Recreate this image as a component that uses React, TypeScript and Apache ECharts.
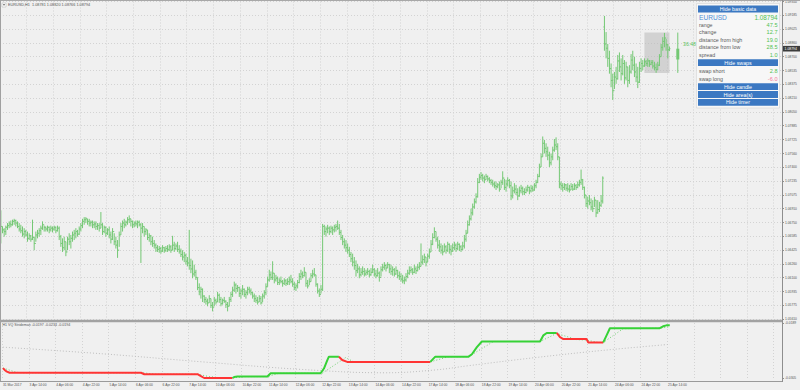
import React, { useEffect, useRef } from "react";
import * as echarts from "echarts";

// ---- time axis tick labels (one every 16 H1 bars) ----
const tickLabels = [
  "31 Mar 2017", "3 Apr 14:00", "4 Apr 06:00", "4 Apr 22:00", "5 Apr 14:00", "6 Apr 06:00",
  "6 Apr 22:00", "7 Apr 14:00", "10 Apr 06:00", "10 Apr 22:00", "11 Apr 14:00", "12 Apr 06:00",
  "12 Apr 22:00", "13 Apr 14:00", "14 Apr 06:00", "14 Apr 22:00", "17 Apr 14:00", "18 Apr 06:00",
  "18 Apr 22:00", "19 Apr 14:00", "20 Apr 06:00", "20 Apr 22:00", "21 Apr 14:00", "24 Apr 06:00",
  "24 Apr 22:00", "25 Apr 14:00",
];
const barsPerTick = 16;
const totalSlots = 469; // bars + empty chart-shift space on the right

// ---- EURUSD H1 bars ----
const firstOpen = 1.0668;
const gapIndex = 362; // Monday 24 Apr open gap
const gapOpen = 1.0905;
const closes = [
  1.0670, 1.0666, 1.0664, 1.0669, 1.0671, 1.0673, 1.0672, 1.0676, 1.0677, 1.0674,
  1.0670, 1.0667, 1.0665, 1.0661, 1.0664, 1.0660, 1.0656, 1.0659, 1.0655, 1.0657,
  1.0650, 1.0660, 1.0662, 1.0665, 1.0668, 1.0672, 1.0669, 1.0667, 1.0669, 1.0666,
  1.0668, 1.0667, 1.0669, 1.0665, 1.0668, 1.0658, 1.0650, 1.0645, 1.0652, 1.0640,
  1.0655, 1.0652, 1.0656, 1.0660, 1.0662, 1.0664, 1.0661, 1.0667, 1.0671, 1.0676,
  1.0678, 1.0679, 1.0676, 1.0674, 1.0675, 1.0672, 1.0673, 1.0670, 1.0671, 1.0668,
  1.0672, 1.0664, 1.0669, 1.0662, 1.0666, 1.0660, 1.0655, 1.0664, 1.0652, 1.0648,
  1.0642, 1.0660, 1.0670, 1.0674, 1.0672, 1.0675, 1.0678, 1.0679, 1.0676, 1.0672,
  1.0674, 1.0673, 1.0675, 1.0672, 1.0668, 1.0670, 1.0664, 1.0666, 1.0657, 1.0659,
  1.0652, 1.0650, 1.0648, 1.0645, 1.0643, 1.0644, 1.0641, 1.0645, 1.0642, 1.0644,
  1.0643, 1.0646, 1.0642, 1.0648, 1.0644, 1.0647, 1.0643, 1.0641, 1.0637, 1.0634,
  1.0636, 1.0629, 1.0627, 1.0624, 1.0620, 1.0614, 1.0616, 1.0610, 1.0598, 1.0593,
  1.0596, 1.0588, 1.0584, 1.0582, 1.0580, 1.0585, 1.0577, 1.0575, 1.0583, 1.0581,
  1.0589, 1.0584, 1.0579, 1.0583, 1.0582, 1.0578, 1.0576, 1.0584, 1.0590, 1.0595,
  1.0601, 1.0597, 1.0598, 1.0591, 1.0594, 1.0596, 1.0590, 1.0592, 1.0596, 1.0594,
  1.0592, 1.0588, 1.0585, 1.0583, 1.0581, 1.0585, 1.0580, 1.0588, 1.0592, 1.0599,
  1.0607, 1.0613, 1.0610, 1.0615, 1.0607, 1.0609, 1.0604, 1.0606, 1.0605, 1.0603,
  1.0606, 1.0603, 1.0605, 1.0607, 1.0605, 1.0602, 1.0598, 1.0600, 1.0604, 1.0611,
  1.0614, 1.0612, 1.0616, 1.0603, 1.0600, 1.0605, 1.0612, 1.0614, 1.0613, 1.0602,
  1.0594, 1.0590, 1.0596, 1.0670, 1.0664, 1.0667, 1.0668, 1.0664, 1.0668, 1.0666,
  1.0669, 1.0670, 1.0668, 1.0663, 1.0657, 1.0652, 1.0648, 1.0645, 1.0642, 1.0637,
  1.0632, 1.0628, 1.0624, 1.0618, 1.0620, 1.0613, 1.0616, 1.0617, 1.0614, 1.0616,
  1.0617, 1.0613, 1.0616, 1.0619, 1.0614, 1.0612, 1.0615, 1.0610, 1.0619, 1.0622,
  1.0624, 1.0621, 1.0625, 1.0620, 1.0617, 1.0619, 1.0614, 1.0618, 1.0612, 1.0611,
  1.0608, 1.0606, 1.0607, 1.0611, 1.0615, 1.0618, 1.0619, 1.0616, 1.0620, 1.0618,
  1.0622, 1.0623, 1.0628, 1.0631, 1.0634, 1.0628, 1.0635, 1.0640, 1.0649, 1.0657,
  1.0664, 1.0655, 1.0648, 1.0646, 1.0642, 1.0640, 1.0646, 1.0642, 1.0649, 1.0643,
  1.0641, 1.0645, 1.0648, 1.0644, 1.0649, 1.0646, 1.0643, 1.0647, 1.0655, 1.0662,
  1.0672, 1.0679, 1.0686, 1.0693, 1.0699, 1.0705, 1.0722, 1.0728, 1.0730, 1.0727,
  1.0725, 1.0729, 1.0726, 1.0724, 1.0722, 1.0720, 1.0718, 1.0717, 1.0719, 1.0714,
  1.0722, 1.0727, 1.0716, 1.0720, 1.0724, 1.0718, 1.0706, 1.0712, 1.0714, 1.0710,
  1.0706, 1.0712, 1.0715, 1.0711, 1.0710, 1.0713, 1.0716, 1.0712, 1.0715, 1.0713,
  1.0718, 1.0722, 1.0729, 1.0740, 1.0752, 1.0768, 1.0762, 1.0758, 1.0754, 1.0745,
  1.0752, 1.0760, 1.0766, 1.0764, 1.0752, 1.0720, 1.0718, 1.0716, 1.0719, 1.0715,
  1.0714, 1.0713, 1.0717, 1.0714, 1.0718, 1.0716, 1.0719, 1.0722, 1.0725, 1.0716,
  1.0707, 1.0697, 1.0700, 1.0698, 1.0693, 1.0691, 1.0701, 1.0686, 1.0690, 1.0695,
  1.0700, 1.0727, 1.0885, 1.0880, 1.0868, 1.0856, 1.0842, 1.0830, 1.0846, 1.0844,
  1.0865, 1.0858, 1.0850, 1.0862, 1.0845, 1.0858, 1.0842, 1.0852, 1.0866, 1.0860,
  1.0852, 1.0846, 1.0840, 1.0856, 1.0862, 1.0859, 1.0864, 1.0862, 1.0865, 1.0861,
  1.0863, 1.0859, 1.0857, 1.0855, 1.0860, 1.0870, 1.0881, 1.0888, 1.0892, 1.0884,
  1.08781, 1.08794,
];
const highs = [
  1.0689, 1.0670, 1.0668, 1.0671, 1.0674, 1.0676, 1.0677, 1.0678, 1.0679, 1.0678,
  1.0676, 1.0674, 1.0672, 1.0670, 1.0668, 1.0666, 1.0664, 1.0662, 1.0660, 1.0678,
  1.0658, 1.0664, 1.0666, 1.0668, 1.0671, 1.0676, 1.0671, 1.0670, 1.0671, 1.0670,
  1.0671, 1.0670, 1.0671, 1.0670, 1.0671, 1.0670, 1.0660, 1.0656, 1.0658, 1.0652,
  1.0658, 1.0662, 1.0660, 1.0664, 1.0666, 1.0668, 1.0666, 1.0670, 1.0674, 1.0679,
  1.0681, 1.0681, 1.0679, 1.0679, 1.0677, 1.0677, 1.0676, 1.0676, 1.0674, 1.0674,
  1.0687, 1.0674, 1.0671, 1.0670, 1.0668, 1.0670, 1.0664, 1.0668, 1.0662, 1.0658,
  1.0654, 1.0664, 1.0674, 1.0677, 1.0679, 1.0677, 1.0681, 1.0683, 1.0679, 1.0677,
  1.0676, 1.0677, 1.0677, 1.0677, 1.0674, 1.0674, 1.0670, 1.0668, 1.0666, 1.0662,
  1.0660, 1.0658, 1.0654, 1.0650, 1.0648, 1.0647, 1.0646, 1.0648, 1.0646, 1.0647,
  1.0648, 1.0649, 1.0648, 1.0659, 1.0652, 1.0650, 1.0652, 1.0648, 1.0644, 1.0642,
  1.0640, 1.0638, 1.0634, 1.0666, 1.0632, 1.0630, 1.0625, 1.0619, 1.0610, 1.0603,
  1.0599, 1.0597, 1.0589, 1.0587, 1.0585, 1.0589, 1.0585, 1.0581, 1.0587, 1.0585,
  1.0593, 1.0591, 1.0587, 1.0585, 1.0587, 1.0583, 1.0581, 1.0587, 1.0593, 1.0599,
  1.0605, 1.0603, 1.0601, 1.0599, 1.0597, 1.0601, 1.0597, 1.0595, 1.0599, 1.0599,
  1.0597, 1.0593, 1.0591, 1.0589, 1.0587, 1.0589, 1.0588, 1.0591, 1.0595, 1.0603,
  1.0611, 1.0619, 1.0617, 1.0629, 1.0615, 1.0613, 1.0611, 1.0609, 1.0611, 1.0607,
  1.0609, 1.0608, 1.0609, 1.0611, 1.0613, 1.0609, 1.0605, 1.0603, 1.0607, 1.0615,
  1.0619, 1.0617, 1.0622, 1.0616, 1.0607, 1.0609, 1.0615, 1.0619, 1.0621, 1.0613,
  1.0603, 1.0597, 1.0601, 1.0673, 1.0672, 1.0670, 1.0672, 1.0670, 1.0671, 1.0670,
  1.0672, 1.0673, 1.0677, 1.0673, 1.0666, 1.0660, 1.0656, 1.0654, 1.0650, 1.0646,
  1.0640, 1.0638, 1.0634, 1.0630, 1.0626, 1.0623, 1.0621, 1.0623, 1.0621, 1.0619,
  1.0621, 1.0619, 1.0621, 1.0625, 1.0621, 1.0619, 1.0621, 1.0617, 1.0623, 1.0626,
  1.0628, 1.0626, 1.0628, 1.0626, 1.0625, 1.0623, 1.0621, 1.0623, 1.0619, 1.0617,
  1.0615, 1.0613, 1.0611, 1.0615, 1.0619, 1.0623, 1.0623, 1.0621, 1.0625, 1.0623,
  1.0626, 1.0628, 1.0650, 1.0636, 1.0638, 1.0634, 1.0638, 1.0644, 1.0654, 1.0662,
  1.0669, 1.0664, 1.0658, 1.0654, 1.0650, 1.0648, 1.0650, 1.0648, 1.0652, 1.0650,
  1.0648, 1.0650, 1.0652, 1.0650, 1.0652, 1.0650, 1.0648, 1.0652, 1.0660, 1.0666,
  1.0677, 1.0683, 1.0691, 1.0697, 1.0703, 1.0709, 1.0727, 1.0732, 1.0734, 1.0732,
  1.0730, 1.0732, 1.0730, 1.0728, 1.0726, 1.0725, 1.0723, 1.0723, 1.0721, 1.0723,
  1.0725, 1.0735, 1.0726, 1.0725, 1.0728, 1.0726, 1.0723, 1.0717, 1.0721, 1.0719,
  1.0715, 1.0717, 1.0719, 1.0717, 1.0715, 1.0717, 1.0719, 1.0717, 1.0719, 1.0718,
  1.0721, 1.0725, 1.0732, 1.0744, 1.0756, 1.0776, 1.0772, 1.0768, 1.0764, 1.0758,
  1.0756, 1.0764, 1.0773, 1.0775, 1.0768, 1.0752, 1.0723, 1.0721, 1.0721, 1.0720,
  1.0721, 1.0719, 1.0721, 1.0720, 1.0721, 1.0720, 1.0723, 1.0725, 1.0737, 1.0726,
  1.0717, 1.0707, 1.0705, 1.0707, 1.0703, 1.0701, 1.0705, 1.0701, 1.0701, 1.0699,
  1.0707, 1.0729, 1.0918, 1.0899, 1.0885, 1.0877, 1.0862, 1.0850, 1.0852, 1.0858,
  1.0872, 1.0875, 1.0868, 1.0872, 1.0866, 1.0864, 1.0858, 1.0860, 1.0873, 1.0877,
  1.0870, 1.0862, 1.0858, 1.0864, 1.0868, 1.0866, 1.0868, 1.0866, 1.0868, 1.0866,
  1.0866, 1.0866, 1.0864, 1.0862, 1.0864, 1.0873, 1.0885, 1.0893, 1.0898, 1.0891,
  1.0885, 1.08820,
];
const lows = [
  1.0650, 1.0662, 1.0658, 1.0660, 1.0666, 1.0668, 1.0669, 1.0671, 1.0672, 1.0670,
  1.0668, 1.0664, 1.0662, 1.0658, 1.0656, 1.0658, 1.0652, 1.0654, 1.0652, 1.0654,
  1.0642, 1.0652, 1.0656, 1.0658, 1.0660, 1.0666, 1.0664, 1.0664, 1.0664, 1.0662,
  1.0664, 1.0663, 1.0665, 1.0662, 1.0664, 1.0654, 1.0646, 1.0640, 1.0642, 1.0635,
  1.0642, 1.0648, 1.0644, 1.0652, 1.0654, 1.0656, 1.0658, 1.0660, 1.0664, 1.0668,
  1.0672, 1.0674, 1.0672, 1.0670, 1.0670, 1.0668, 1.0668, 1.0666, 1.0666, 1.0664,
  1.0668, 1.0660, 1.0662, 1.0658, 1.0660, 1.0656, 1.0650, 1.0654, 1.0648, 1.0644,
  1.0633, 1.0646, 1.0660, 1.0664, 1.0668, 1.0670, 1.0672, 1.0674, 1.0670, 1.0668,
  1.0669, 1.0670, 1.0668, 1.0670, 1.0627, 1.0662, 1.0658, 1.0660, 1.0654, 1.0652,
  1.0648, 1.0646, 1.0644, 1.0640, 1.0640, 1.0639, 1.0638, 1.0640, 1.0639, 1.0640,
  1.0640, 1.0641, 1.0639, 1.0642, 1.0640, 1.0642, 1.0640, 1.0638, 1.0634, 1.0630,
  1.0628, 1.0625, 1.0623, 1.0619, 1.0615, 1.0609, 1.0611, 1.0607, 1.0595, 1.0589,
  1.0585, 1.0581, 1.0580, 1.0578, 1.0576, 1.0580, 1.0574, 1.0570, 1.0576, 1.0578,
  1.0581, 1.0580, 1.0576, 1.0578, 1.0580, 1.0574, 1.0570, 1.0576, 1.0581, 1.0587,
  1.0593, 1.0591, 1.0593, 1.0587, 1.0585, 1.0589, 1.0587, 1.0585, 1.0589, 1.0591,
  1.0589, 1.0585, 1.0581, 1.0580, 1.0578, 1.0581, 1.0578, 1.0581, 1.0585, 1.0589,
  1.0599, 1.0605, 1.0607, 1.0607, 1.0603, 1.0605, 1.0601, 1.0601, 1.0603, 1.0599,
  1.0601, 1.0600, 1.0601, 1.0601, 1.0603, 1.0599, 1.0595, 1.0594, 1.0597, 1.0603,
  1.0607, 1.0609, 1.0611, 1.0599, 1.0597, 1.0601, 1.0605, 1.0609, 1.0611, 1.0599,
  1.0591, 1.0587, 1.0591, 1.0594, 1.0660, 1.0658, 1.0662, 1.0660, 1.0662, 1.0660,
  1.0663, 1.0664, 1.0666, 1.0660, 1.0654, 1.0648, 1.0644, 1.0640, 1.0638, 1.0634,
  1.0628, 1.0623, 1.0619, 1.0611, 1.0615, 1.0609, 1.0611, 1.0613, 1.0611, 1.0612,
  1.0613, 1.0610, 1.0612, 1.0615, 1.0611, 1.0609, 1.0611, 1.0605, 1.0611, 1.0617,
  1.0619, 1.0617, 1.0621, 1.0615, 1.0613, 1.0612, 1.0611, 1.0613, 1.0609, 1.0607,
  1.0605, 1.0603, 1.0602, 1.0605, 1.0609, 1.0613, 1.0615, 1.0613, 1.0615, 1.0614,
  1.0617, 1.0619, 1.0623, 1.0625, 1.0627, 1.0623, 1.0628, 1.0632, 1.0640, 1.0648,
  1.0656, 1.0652, 1.0644, 1.0640, 1.0638, 1.0636, 1.0640, 1.0638, 1.0640, 1.0638,
  1.0636, 1.0640, 1.0642, 1.0640, 1.0642, 1.0641, 1.0640, 1.0642, 1.0644, 1.0652,
  1.0662, 1.0671, 1.0677, 1.0683, 1.0691, 1.0697, 1.0704, 1.0721, 1.0725, 1.0723,
  1.0721, 1.0725, 1.0723, 1.0721, 1.0719, 1.0717, 1.0715, 1.0713, 1.0715, 1.0711,
  1.0715, 1.0719, 1.0713, 1.0711, 1.0717, 1.0715, 1.0701, 1.0703, 1.0709, 1.0707,
  1.0701, 1.0705, 1.0709, 1.0707, 1.0707, 1.0709, 1.0711, 1.0708, 1.0710, 1.0711,
  1.0712, 1.0715, 1.0721, 1.0728, 1.0740, 1.0752, 1.0756, 1.0752, 1.0748, 1.0740,
  1.0742, 1.0748, 1.0758, 1.0760, 1.0748, 1.0715, 1.0713, 1.0711, 1.0713, 1.0712,
  1.0711, 1.0710, 1.0713, 1.0712, 1.0713, 1.0713, 1.0715, 1.0717, 1.0719, 1.0713,
  1.0703, 1.0693, 1.0691, 1.0695, 1.0689, 1.0687, 1.0693, 1.0681, 1.0685, 1.0687,
  1.0693, 1.0697, 1.0877, 1.0868, 1.0858, 1.0850, 1.0834, 1.0819, 1.0832, 1.0838,
  1.0843, 1.0852, 1.0842, 1.0848, 1.0838, 1.0842, 1.0834, 1.0838, 1.0850, 1.0854,
  1.0846, 1.0840, 1.0833, 1.0839, 1.0852, 1.0854, 1.0858, 1.0859, 1.0858, 1.0858,
  1.0860, 1.0856, 1.0854, 1.0851, 1.0854, 1.0859, 1.0870, 1.0877, 1.0881, 1.0877,
  1.0868, 1.08766,
];

// ---- today's daily candle drawn right of the last bar, and the highlighted area ----
const dailySlot = 406;
const dailyOpen = 1.08667;
const dailyHigh = 1.08984;
const dailyLow = 1.08509;
const areaFrom = 386;
const areaTo = 401;
const swapShort = 2.8;
const swapLong = -6.0;
const spread = 1.0;
const timerText = "36:48";

// ---- VQ indicator (breakpoints: [bar, value]) ----
const vqMain = [
  [0, -0.0284], [1, -0.0288], [2, -0.0291], [4, -0.0294], [83, -0.0294], [85, -0.0297],
  [117, -0.0297], [119, -0.0301], [121, -0.0305], [138, -0.0305], [139, -0.0303], [141, -0.0302],
  [159, -0.0302], [161, -0.0295], [191, -0.0295], [193, -0.0285], [195, -0.0268], [196, -0.026],
  [202, -0.026], [204, -0.0267], [207, -0.0271], [257, -0.0271], [260, -0.026], [280, -0.026],
  [282, -0.0255], [285, -0.024], [288, -0.0228], [323, -0.0228], [325, -0.0215], [327, -0.021],
  [333, -0.021], [335, -0.0219], [337, -0.0223], [351, -0.0223], [352, -0.023], [361, -0.023],
  [363, -0.0215], [365, -0.02], [395, -0.02], [397, -0.0196], [399, -0.0194], [401, -0.0194],
];
const vqSignal = [
  [0, -0.0284], [8, -0.0293], [12, -0.0294], [84, -0.0294], [92, -0.0297], [117, -0.0297],
  [124, -0.0302], [132, -0.0305], [138, -0.0305], [146, -0.0302], [159, -0.0302], [166, -0.0295],
  [192, -0.0295], [206, -0.0262], [211, -0.0271], [257, -0.0271], [268, -0.026], [280, -0.026],
  [295, -0.0228], [323, -0.0228], [333, -0.0211], [345, -0.0224], [351, -0.0225], [358, -0.023],
  [361, -0.023], [373, -0.0201], [395, -0.02], [401, -0.0197],
];
const vqSlow = [
  [0, -0.024], [60, -0.0254], [120, -0.0271], [180, -0.0287], [230, -0.0294], [260, -0.0288],
  [280, -0.0279], [320, -0.0262], [360, -0.0247], [401, -0.0234],
];

// axis ranges
const priceMin = 1.0561;
const priceMax = 1.0935;
const priceSteps = 23;
const vqMin = -0.0305;
const vqMax = -0.0189;

const FONT = "Liberation Sans, Arial, sans-serif";
const BAR_COLOR = "#74c874";
const GREEN = "#36d236";
const RED = "#ff3434";
const GRID_LINE = { color: "#d3d3d3", type: [1, 2] as any, width: 1 };

function buildOption() {
  const cats = Array.from({ length: totalSlots }, (_, i) => String(i));
  const ohlc = closes.map((c, i) => [
    i,
    i === 0 ? firstOpen : i === gapIndex ? gapOpen : closes[i - 1],
    c,
    lows[i],
    highs[i],
  ]);
  const last = ohlc[ohlc.length - 1];
  const lastClose = last[2] as number;

  const showTick = (i: number) => i % barsPerTick === 0;

  // colored runs of the main VQ line
  const runs: { dir: number; pts: number[][] }[] = [];
  let cur = { dir: -1, pts: [vqMain[0]] };
  for (let k = 1; k < vqMain.length; k++) {
    const a = vqMain[k - 1][1];
    const b = vqMain[k][1];
    const d = b > a ? 1 : b < a ? -1 : cur.dir;
    if (d !== cur.dir) {
      runs.push(cur);
      cur = { dir: d, pts: [vqMain[k - 1]] };
    }
    cur.pts.push(vqMain[k]);
  }
  runs.push(cur);

  const ohlcRender = (params: any, api: any) => {
    const i = api.value(0);
    const p0 = api.coord([i, api.value(1)]);
    const x = p0[0];
    const yo = p0[1];
    const yc = api.coord([i, api.value(2)])[1];
    const yl = api.coord([i, api.value(3)])[1];
    const yh = api.coord([i, api.value(4)])[1];
    const st = { stroke: BAR_COLOR, lineWidth: 1 };
    return {
      type: "group",
      children: [
        { type: "line", shape: { x1: x, y1: yh, x2: x, y2: yl }, style: st },
        { type: "line", shape: { x1: x - 1, y1: yo, x2: x, y2: yo }, style: st },
        { type: "line", shape: { x1: x, y1: yc, x2: x + 1, y2: yc }, style: st },
      ],
    };
  };

  const candleRender = (params: any, api: any) => {
    const i = api.value(0);
    const po = api.coord([i, api.value(1)]);
    const x = po[0];
    const yc = api.coord([i, api.value(2)])[1];
    const yl = api.coord([i, api.value(3)])[1];
    const yh = api.coord([i, api.value(4)])[1];
    return {
      type: "group",
      children: [
        { type: "line", shape: { x1: x, y1: yh, x2: x, y2: yl }, style: { stroke: BAR_COLOR, lineWidth: 1 } },
        {
          type: "rect",
          shape: { x: x - 1.5, y: Math.min(po[1], yc), width: 3, height: Math.abs(po[1] - yc) },
          style: { fill: BAR_COLOR },
        },
      ],
    };
  };

  // current-price tag on the right price scale
  const priceTagRender = (params: any, api: any) => {
    const y = api.coord([0, api.value(1)])[1];
    const x = params.coordSys.x + params.coordSys.width;
    return {
      type: "group",
      children: [
        { type: "rect", shape: { x: x + 1, y: y - 2.8, width: 17, height: 5.6 }, style: { fill: "#3c3c3c" } },
        {
          type: "text",
          x: x + 2.6,
          y: y,
          style: {
            text: lastClose.toFixed(5),
            fill: "#ffffff",
            font: `3.4px ${FONT}`,
            textVerticalAlign: "middle",
          },
        },
      ],
    };
  };

  const pips = (v: number) => (v * 10000).toFixed(1);
  const panelLeft = 698;
  const panelRight = 778;
  const btn = (label: string, y: number) => [
    { type: "rect", z: 101, shape: { x: panelLeft, y, width: panelRight - panelLeft, height: 6.8 }, style: { fill: "#3b78c2" } },
    {
      type: "text", z: 102, x: (panelLeft + panelRight) / 2, y: y + 3.5,
      style: { text: label, fill: "#ffffff", font: `5.3px ${FONT}`, textAlign: "center", textVerticalAlign: "middle" },
    },
  ];
  const row = (label: string, value: string, y: number, valueColor: string) => [
    {
      type: "text", z: 102, x: 699, y,
      style: { text: label, fill: "#5a5a5a", font: `5.3px ${FONT}`, textVerticalAlign: "middle" },
    },
    {
      type: "text", z: 102, x: 777.5, y,
      style: { text: value, fill: valueColor, font: `5.6px ${FONT}`, textAlign: "right", textVerticalAlign: "middle" },
    },
  ];
  const valGreen = "#52c152";

  const headerText = `EURUSD,H1  ${(last[1] as number).toFixed(5)} ${(last[4] as number).toFixed(5)} ${(last[3] as number).toFixed(5)} ${lastClose.toFixed(5)}`;
  const vqTitle = `H1 VQ Strideman ${vqSignal[vqSignal.length - 1][1].toFixed(4)} ${vqSlow[vqSlow.length - 1][1].toFixed(4)} ${vqMain[vqMain.length - 1][1].toFixed(4)}`;

  const graphic: any[] = [
    // frame lines
    { type: "line", z: 90, shape: { x1: 0, y1: 0.5, x2: 800, y2: 0.5 }, style: { stroke: "#a8a8a8", lineWidth: 1 } },
    { type: "line", z: 90, shape: { x1: 0.5, y1: 0, x2: 0.5, y2: 381 }, style: { stroke: "#a0a0a0", lineWidth: 1 } },
    { type: "rect", z: 90, shape: { x: 0, y: 319.8, width: 783, height: 2.4 }, style: { fill: "#a2a2a2" } },
    { type: "line", z: 90, shape: { x1: 0, y1: 381.5, x2: 783, y2: 381.5 }, style: { stroke: "#9a9a9a", lineWidth: 1 } },
    { type: "line", z: 90, shape: { x1: 782.5, y1: 0, x2: 782.5, y2: 382 }, style: { stroke: "#8e8e8e", lineWidth: 1 } },
    // header
    { type: "rect", z: 91, shape: { x: 2, y: 3, width: 4, height: 4 }, style: { fill: "#ffffff", stroke: "#b0b0b0", lineWidth: 0.5 } },
    { type: "polygon", z: 92, shape: { points: [[2.8, 4.3], [5.2, 4.3], [4, 5.8]] }, style: { fill: "#555" } },
    {
      type: "text", z: 91, x: 8, y: 5,
      style: { text: headerText, fill: "#555555", font: `3.8px ${FONT}`, textVerticalAlign: "middle" },
    },
    {
      type: "text", z: 91, x: 2.5, y: 325.3,
      style: { text: vqTitle, fill: "#555555", font: `3.6px ${FONT}`, textVerticalAlign: "middle" },
    },
    // timer
    {
      type: "text", z: 91, x: 683, y: 44,
      style: { text: timerText, fill: "#5cc25c", font: `5.2px ${FONT}`, textVerticalAlign: "middle" },
    },
    // info panel
    { type: "rect", z: 100, shape: { x: 696.5, y: 3.5, width: 83, height: 104.5 }, style: { fill: "#f7f7f7", stroke: "#d4d4d4", lineWidth: 0.6 } },
    ...btn("Hide basic data", 5.6),
    {
      type: "text", z: 102, x: 699, y: 17.3,
      style: { text: "EURUSD", fill: "#4f8fd6", font: `6.6px ${FONT}`, textVerticalAlign: "middle" },
    },
    {
      type: "text", z: 102, x: 777.5, y: 17.3,
      style: { text: lastClose.toFixed(5), fill: valGreen, font: `6.4px ${FONT}`, textAlign: "right", textVerticalAlign: "middle" },
    },
    ...row("range", pips(dailyHigh - dailyLow), 25, valGreen),
    ...row("change", pips(lastClose - dailyOpen), 32.4, valGreen),
    ...row("distance from high", pips(dailyHigh - lastClose), 39.9, valGreen),
    ...row("distance from low", pips(lastClose - dailyLow), 47.3, valGreen),
    ...row("spread", spread.toFixed(1), 54.7, valGreen),
    ...btn("Hide swaps", 59.2),
    ...row("swap short", swapShort.toFixed(1), 70.7, valGreen),
    ...row("swap long", swapLong.toFixed(1), 78.7, "#f27a98"),
    ...btn("Hide candle", 83.3),
    ...btn("Hide area(s)", 91.1),
    ...btn("Hide timer", 98.9),
  ];

  const series: any[] = [
    {
      type: "custom",
      name: "EURUSD",
      xAxisIndex: 0,
      yAxisIndex: 0,
      silent: true,
      data: ohlc,
      encode: { x: 0, y: [1, 2, 3, 4] },
      renderItem: ohlcRender,
      z: 3,
      markArea: {
        silent: true,
        itemStyle: { color: "rgba(186,186,186,0.55)" },
        data: [[{ xAxis: areaFrom, yAxis: dailyHigh }, { xAxis: areaTo, yAxis: dailyLow }]],
      },
    },
    {
      type: "custom",
      name: "daily candle",
      xAxisIndex: 0,
      yAxisIndex: 0,
      silent: true,
      data: [[dailySlot, dailyOpen, lastClose, dailyLow, dailyHigh]],
      encode: { x: 0, y: [1, 2, 3, 4] },
      renderItem: candleRender,
      z: 3,
    },
    {
      type: "custom",
      name: "price tag",
      xAxisIndex: 0,
      yAxisIndex: 0,
      silent: true,
      clip: false,
      data: [[0, lastClose]],
      encode: { x: 0, y: 1 },
      renderItem: priceTagRender,
      z: 20,
    },
    {
      type: "line",
      name: "slow",
      xAxisIndex: 1,
      yAxisIndex: 1,
      data: vqSlow,
      smooth: 0.4,
      showSymbol: false,
      silent: true,
      lineStyle: { color: "#bdbdbd", width: 1, type: [1, 2] },
      z: 2,
    },
    {
      type: "line",
      name: "signal",
      xAxisIndex: 1,
      yAxisIndex: 1,
      data: vqSignal,
      showSymbol: false,
      silent: true,
      lineStyle: { color: "#6fd06f", width: 1, type: [1, 2] },
      z: 3,
    },
    ...runs.map((r) => ({
      type: "line",
      xAxisIndex: 1,
      yAxisIndex: 1,
      data: r.pts,
      showSymbol: false,
      silent: true,
      lineStyle: { color: r.dir > 0 ? GREEN : RED, width: 2 },
      z: 4,
    })),
  ];

  return {
    animation: false,
    backgroundColor: "#f0f0f0",
    textStyle: { fontFamily: FONT },
    grid: [
      { left: 0, top: 1, width: 782, height: 318 },
      { left: 0, top: 323, width: 782, height: 55 },
    ],
    xAxis: [
      {
        type: "category",
        gridIndex: 0,
        data: cats,
        boundaryGap: true,
        axisLine: { show: false },
        axisTick: { show: false },
        axisLabel: { show: false },
        splitLine: { show: true, interval: (i: number) => showTick(i), lineStyle: GRID_LINE },
      },
      {
        type: "category",
        gridIndex: 1,
        data: cats,
        boundaryGap: true,
        axisLine: { show: false },
        axisTick: { show: false },
        axisLabel: {
          show: true,
          interval: (i: number) => showTick(i) && i / barsPerTick < tickLabels.length,
          formatter: (_v: string, i: number) => tickLabels[i / barsPerTick] ?? "",
          align: "left",
          margin: 5.5,
          fontSize: 3.3,
          fontFamily: FONT,
          color: "#555555",
        },
        splitLine: { show: true, interval: (i: number) => showTick(i), lineStyle: GRID_LINE },
      },
    ],
    yAxis: [
      {
        type: "value",
        gridIndex: 0,
        position: "right",
        min: priceMin,
        max: priceMax,
        interval: (priceMax - priceMin) / priceSteps,
        axisLine: { show: false },
        axisTick: { show: true, length: 2, lineStyle: { color: "#8e8e8e" } },
        axisLabel: {
          margin: 3,
          fontSize: 3.3,
          fontFamily: FONT,
          color: "#555555",
          formatter: (v: number) => (Math.round(v / 0.00005) * 0.00005).toFixed(5),
        },
        splitLine: { show: true, lineStyle: GRID_LINE },
      },
      {
        type: "value",
        gridIndex: 1,
        position: "right",
        min: vqMin,
        max: vqMax,
        interval: vqMax - vqMin,
        axisLine: { show: false },
        axisTick: { show: true, length: 2, lineStyle: { color: "#8e8e8e" } },
        axisLabel: {
          margin: 3,
          fontSize: 3.3,
          fontFamily: FONT,
          color: "#555555",
          formatter: (v: number) => v.toFixed(4),
        },
        splitLine: { show: false },
      },
    ],
    graphic,
    series,
  };
}

export default function App() {
  const ref = useRef<HTMLDivElement>(null);
  useEffect(() => {
    document.body.style.margin = "0";
    const chart = echarts.init(ref.current as HTMLDivElement, null, { renderer: "svg" });
    chart.setOption(buildOption() as any);
    return () => chart.dispose();
  }, []);
  return (
    <div
      ref={ref}
      style={{ position: "absolute", left: 0, top: 0, width: 800, height: 390, background: "#f0f0f0" }}
    />
  );
}
